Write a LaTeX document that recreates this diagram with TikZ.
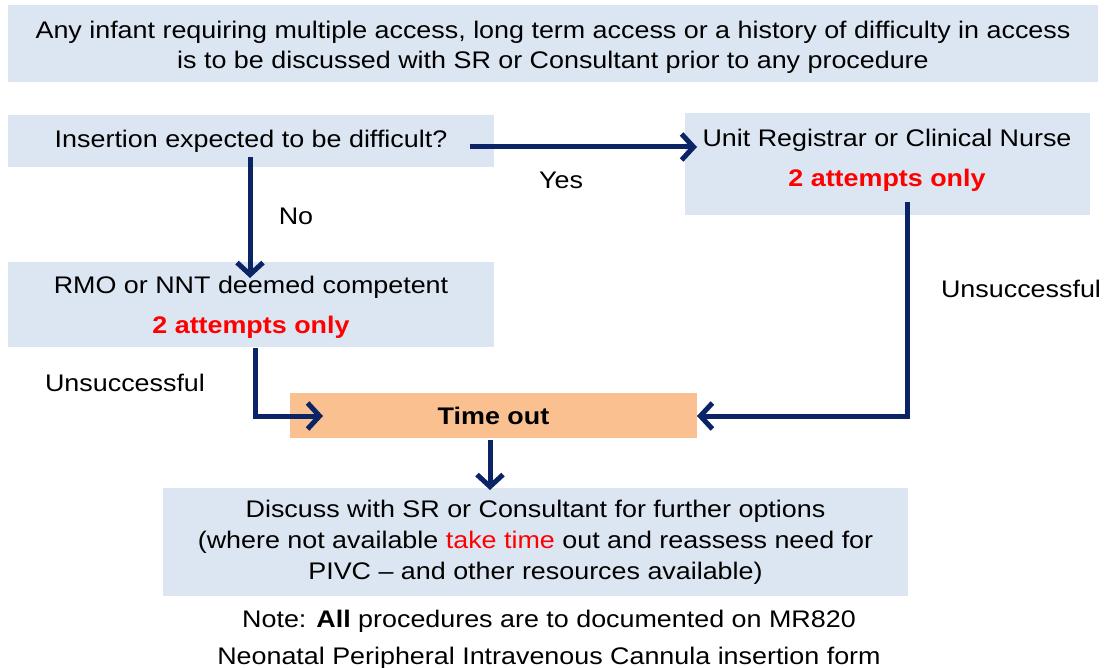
\documentclass[tikz,border=0pt]{standalone}
\usepackage{fontspec}
\setmainfont[FakeStretch=1.12]{Liberation Sans}
\usetikzlibrary{arrows.meta}
\definecolor{boxblue}{HTML}{DCE6F2}
\definecolor{boxorange}{HTML}{FAC090}
\definecolor{navy}{HTML}{0B2466}
\definecolor{redtxt}{HTML}{FF0000}
\begin{document}
\begin{tikzpicture}[x=1pt,y=-1pt,
  every node/.style={font=\fontsize{24}{30}\selectfont, text=black},
  bluebox/.style={fill=boxblue, draw=none, inner sep=0pt, align=center},
  orangebox/.style={fill=boxorange, draw=none, inner sep=0pt, align=center},
  lbl/.style={inner sep=0pt},
  arr/.style={draw=navy, line width=5pt, -{Straight Barb[length=12pt,width=26pt]}, line join=miter}]
\useasboundingbox[fill=white] (0,0) rectangle (1106,668);
% boxes
\node[bluebox, minimum width=1090pt, minimum height=77pt] (top) at (553,43.5) {};
\node[lbl, align=center] (toptext) at (553,47)
  {Any infant requiring multiple access, long term access or a history of difficulty in access\\is to be discussed with SR or Consultant prior to any procedure};
\node[bluebox, minimum width=486pt, minimum height=52pt] (ins) at (251,141)
  {Insertion expected to be difficult?};
\node[bluebox, minimum width=405pt, minimum height=102pt] (unit) at (887.5,164) {};
\node[lbl, align=center] (unittext) at (887,160)
  {Unit Registrar or Clinical Nurse\\[10pt]{\color{redtxt}\bfseries 2 attempts only}};
\node[bluebox, minimum width=486pt, minimum height=85pt] (rmo) at (251,304.5) {};
\node[lbl, align=center] (rmotext) at (251,307)
  {RMO or NNT deemed competent\\[10pt]{\color{redtxt}\bfseries 2 attempts only}};
\node[orangebox, minimum width=407pt, minimum height=45pt, font=\fontsize{24}{30}\selectfont\bfseries] (time) at (493.5,415.5)
  {Time out};
\node[bluebox, minimum width=745pt, minimum height=108pt, font=\fontsize{24}{31}\selectfont] (disc) at (535.5,542)
  {Discuss with SR or Consultant for further options\\(where not available {\color{redtxt}take time} out and reassess need for\\PIVC -- and other resources available)};
\node[lbl, align=center, font=\fontsize{24}{37}\selectfont] (note) at (549,640)
  {Note: \textbf{All} procedures are to documented on MR820\\Neonatal Peripheral Intravenous Cannula insertion form};
% labels
\node[lbl] (yes) at (561,180) {Yes};
\node[lbl] (no) at (296,216) {No};
\node[lbl] (unsL) at (125,383) {Unsuccessful};
\node[lbl] (unsR) at (1021,289) {Unsuccessful};
% connector coordinates
\coordinate (yesS) at (470,147);
\coordinate (yesE) at (697,147);
\coordinate (noS) at (250,157);
\coordinate (noE) at (250,278);
\coordinate (lS) at (255,348);
\coordinate (lC) at (255,416);
\coordinate (lE) at (323,416);
\coordinate (rS) at (907,202);
\coordinate (rC) at (907,416);
\coordinate (rE) at (697,416);
\coordinate (dS) at (490,440);
\coordinate (dE) at (490,490);
% connectors
\draw[arr] (yesS) -- (yesE);
\draw[arr] (noS) -- (noE);
\draw[arr] (lS) -- (lC) -- (lE);
\draw[arr] (rS) -- (rC) -- (rE);
\draw[arr] (dS) -- (dE);
\end{tikzpicture}
\end{document}
